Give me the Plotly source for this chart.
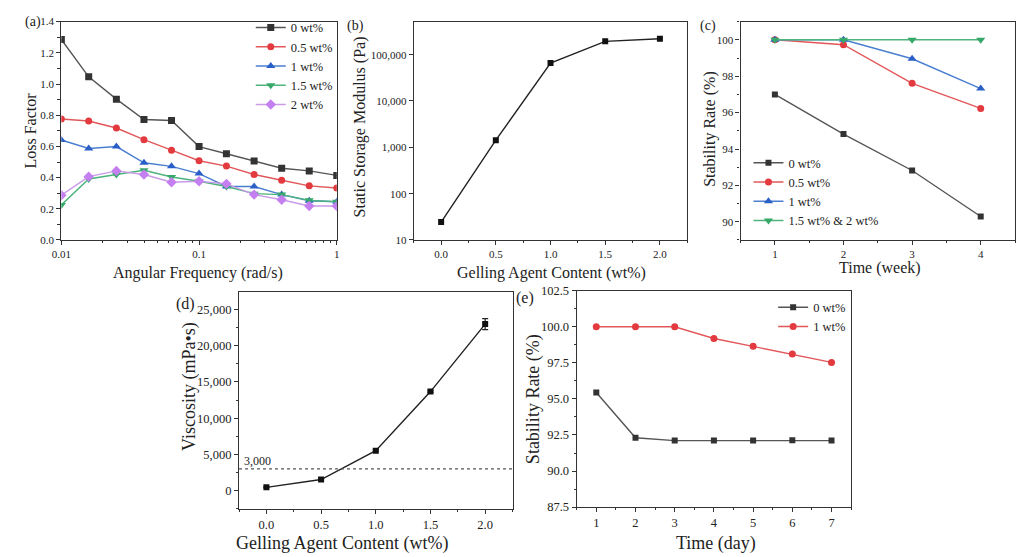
import plotly.graph_objects as go

# ---------------- data ----------------
# (a) loss factor vs angular frequency
freq = [0.01, 0.0158, 0.0251, 0.0398, 0.0631, 0.1, 0.158, 0.251, 0.398, 0.631, 1.0]
lf_0 = [1.286, 1.046, 0.903, 0.772, 0.766, 0.599, 0.553, 0.506, 0.460, 0.443, 0.414]
lf_05 = [0.776, 0.763, 0.718, 0.643, 0.576, 0.508, 0.474, 0.420, 0.383, 0.347, 0.333]
lf_1 = [0.641, 0.587, 0.599, 0.495, 0.472, 0.426, 0.343, 0.343, 0.291, 0.252, 0.245]
lf_15 = [0.225, 0.391, 0.420, 0.447, 0.404, 0.377, 0.343, 0.297, 0.291, 0.254, 0.245]
lf_2 = [0.287, 0.406, 0.443, 0.420, 0.370, 0.377, 0.360, 0.291, 0.258, 0.218, 0.218]
a_names = ["0 wt%", "0.5 wt%", "1 wt%", "1.5 wt%", "2 wt%"]

# (b) static storage modulus
content = [0.0, 0.5, 1.0, 1.5, 2.0]
modulus = [24.3, 1426, 65700, 193600, 220000]
b_ticks = [10, 100, 1000, 10000, 100000]
b_ticktext = ["10", "100", "1,000", "10,000", "100,000"]

# (c) stability rate vs week
weeks = [1, 2, 3, 4]
c_0 = [97.0, 94.82, 92.82, 90.29]
c_05 = [100.0, 99.73, 97.61, 96.23]
c_1 = [100.0, 100.0, 98.96, 97.32]
c_15_2 = [100.0, 100.0, 100.0, 100.0]
c_names = ["0 wt%", "0.5 wt%", "1 wt%", "1.5 wt% & 2 wt%"]

# (d) viscosity
viscosity = [448, 1523, 5511, 13665, 22984]
viscosity_err = [60, 90, 150, 120, 760]
THRESHOLD = 3000

# (e) stability rate vs day
days = [1, 2, 3, 4, 5, 6, 7]
e_0 = [95.44, 92.31, 92.11, 92.11, 92.11, 92.13, 92.11]
e_1 = [100.0, 100.0, 100.0, 99.19, 98.65, 98.11, 97.53]
e_names = ["0 wt%", "1 wt%"]

# axis titles
titles = {
    "a": ("Angular Frequency (rad/s)", "Loss Factor"),
    "b": ("Gelling Agent Content (wt%)", "Static Storage Modulus (Pa)"),
    "c": ("Time (week)", "Stability Rate (%)"),
    "d": ("Gelling Agent Content (wt%)", "Viscosity (mPa•s)"),
    "e": ("Time (day)", "Stability Rate (%)"),
}

# ---------------- style ----------------
FONT = "Liberation Serif, Times New Roman, serif"
TXT = "#222222"
BLACK_M, BLACK_L = "#333333", "#555555"
RED_M, RED_L = "#e23a3e", "#e2575a"
BLUE_M, BLUE_L = "#2a5fc8", "#4a7fd0"
GREEN_M, GREEN_L = "#35a86a", "#4cb47c"
PURP_M, PURP_L = "#c47ff0", "#c99ae8"

W, H = 1020, 557


def xd(l, r):
    return [l / W, r / W]


def yd(t, b):
    return [1 - b / H, 1 - t / H]


fig = go.Figure()


def line(x, y, name, mcol, lcol, symbol, xa, ya, legend=None, show=True, size=7):
    fig.add_trace(go.Scatter(
        x=x, y=y, name=name, mode="lines+markers",
        line=dict(color=lcol, width=1.4),
        marker=dict(color=mcol, symbol=symbol, size=size),
        xaxis=xa, yaxis=ya, legend=legend, showlegend=show))


# (a)
line(freq, lf_0, a_names[0], BLACK_M, BLACK_L, "square", "x", "y", "legend")
line(freq, lf_05, a_names[1], RED_M, RED_L, "circle", "x", "y", "legend")
line(freq, lf_1, a_names[2], BLUE_M, BLUE_L, "triangle-up", "x", "y", "legend", size=8)
line(freq, lf_15, a_names[3], GREEN_M, GREEN_L, "triangle-down", "x", "y", "legend", size=8)
line(freq, lf_2, a_names[4], PURP_M, PURP_L, "diamond", "x", "y", "legend", size=8)

# (b)
line(content, modulus, "modulus", "#111111", "#222222", "square", "x2", "y2", show=False, size=6)

# (c)
line(weeks, c_0, c_names[0], BLACK_M, BLACK_L, "square", "x3", "y3", "legend2", size=6)
line(weeks, c_05, c_names[1], RED_M, RED_L, "circle", "x3", "y3", "legend2")
line(weeks, c_1, c_names[2], BLUE_M, BLUE_L, "triangle-up", "x3", "y3", "legend2", size=8)
line(weeks, c_15_2, c_names[3], GREEN_M, GREEN_L, "triangle-down", "x3", "y3", "legend2", size=8)

# (d)
fig.add_trace(go.Scatter(
    x=content, y=viscosity, mode="lines+markers", showlegend=False,
    line=dict(color="#222222", width=1.4),
    marker=dict(color="#111111", symbol="square", size=6),
    error_y=dict(type="data", array=viscosity_err, color="#222222", thickness=1.2, width=3),
    xaxis="x4", yaxis="y4"))

# (e)
line(days, e_0, e_names[0], BLACK_M, BLACK_L, "square", "x5", "y5", "legend3", size=6)
line(days, e_1, e_names[1], RED_M, RED_L, "circle", "x5", "y5", "legend3")

tick_top = dict(family=FONT, size=11, color=TXT)
tick_bot = dict(family=FONT, size=12.5, color=TXT)
MC = "#333333"


def ax(domain, anchor, rng, tf, **kw):
    d = dict(domain=domain, anchor=anchor, range=rng, showline=True, mirror=True,
             linecolor=MC, linewidth=1.3, ticks="outside", ticklen=4,
             tickwidth=1.2, tickcolor=MC, showgrid=False, zeroline=False,
             tickfont=tf)
    d.update(kw)
    return d


ya_top = yd(15, 239)
leg_font = dict(family=FONT, size=12.5, color=TXT)

layout = dict(
    width=W, height=H, margin=dict(l=0, r=0, t=0, b=0),
    paper_bgcolor="white", plot_bgcolor="white",
    font=dict(family=FONT, color=TXT),
    # (a)
    xaxis=ax(xd(52, 331), "y", [-2, 0], tick_top, type="log",
             tickvals=[0.01, 0.1, 1], ticktext=["0.01", "0.1", "1"],
             minor=dict(ticks="outside", ticklen=2, dtick="D1", tickcolor=MC)),
    yaxis=ax(ya_top, "x", [0, 1.4], tick_top, dtick=0.2, tickformat=".1f",
             minor=dict(ticks="outside", ticklen=3, dtick=0.1, tickcolor=MC)),
    # (b)
    xaxis2=ax(xd(409, 686), "y2", [-0.25, 2.25], tick_top, dtick=0.5, tickformat=".1f",
              minor=dict(ticks="outside", ticklen=2, dtick=0.25, tickcolor=MC)),
    yaxis2=ax(ya_top, "x2", [1, 5.713], tick_top, type="log",
              tickvals=b_ticks, ticktext=b_ticktext),
    # (c)
    xaxis3=ax(xd(740, 1018), "y3", [0.5, 4.5], tick_top, dtick=1,
              minor=dict(ticks="outside", ticklen=2, dtick=0.5, tickcolor=MC)),
    yaxis3=ax(ya_top, "x3", [89, 101], tick_top, dtick=2,
              minor=dict(ticks="outside", ticklen=2, dtick=1, tickcolor=MC)),
    # (d)
    xaxis4=ax(xd(232, 509), "y4", [-0.25, 2.25], tick_bot, dtick=0.5, tickformat=".1f",
              minor=dict(ticks="outside", ticklen=2, dtick=0.25, tickcolor=MC)),
    yaxis4=ax(yd(292, 515), "x4", [-2550, 27460], tick_bot,
              tickvals=[0, 5000, 10000, 15000, 20000, 25000], tickformat=",",
              minor=dict(ticks="outside", ticklen=2, dtick=2500, tickcolor=MC)),
    # (e)
    xaxis5=ax(xd(574, 852), "y5", [0.5, 7.5], tick_bot, dtick=1,
              minor=dict(ticks="outside", ticklen=2, dtick=0.5, tickcolor=MC)),
    yaxis5=ax(yd(291, 513), "x5", [87.5, 102.5], tick_bot, dtick=2.5, tickformat=".1f",
              minor=dict(ticks="outside", ticklen=2, dtick=1.25, tickcolor=MC)),
    legend=dict(x=332 / W, y=1 - 6 / H, xanchor="right", yanchor="top",
                bgcolor="rgba(0,0,0,0)", font=leg_font, itemwidth=30, tracegroupgap=0),
    legend2=dict(x=748 / W, y=1 - 234 / H, xanchor="left", yanchor="bottom",
                 bgcolor="rgba(0,0,0,0)", font=leg_font, itemwidth=30, tracegroupgap=0),
    legend3=dict(x=852 / W, y=1 - 293 / H, xanchor="right", yanchor="top",
                 bgcolor="rgba(0,0,0,0)", font=leg_font, itemwidth=30, tracegroupgap=0),
)
fig.update_layout(**layout)

# threshold line in (d)
fig.add_shape(type="line", xref="x4 domain", yref="y4", x0=0, x1=1, y0=THRESHOLD, y1=THRESHOLD,
              line=dict(color="#555555", width=1.2, dash="dot"))
fig.add_annotation(x=-0.25, y=THRESHOLD, xref="x4", yref="y4", text=f"{THRESHOLD:,}",
                   showarrow=False, xanchor="left", yanchor="bottom", xshift=3, yshift=-1,
                   font=dict(family=FONT, size=12, color=TXT))


def txt(text, px, py, size, angle=0):
    fig.add_annotation(x=px / W, y=1 - py / H, xref="paper", yref="paper", text=text,
                       showarrow=False, xanchor="center", yanchor="middle", textangle=angle,
                       font=dict(family=FONT, size=size, color=TXT))


# axis titles (placed like the original figure)
txt(titles["a"][0], 190, 273, 16)
txt(titles["a"][1], 21, 127, 16, -90)
txt(titles["b"][0], 548, 273, 16)
txt(titles["b"][1], 354, 123, 16, -90)
txt(titles["c"][0], 881, 268, 16)
txt(titles["c"][1], 709, 125, 16, -90)
txt(titles["d"][0], 336, 550, 18)
txt(titles["d"][1], 182, 389, 18, -90)
txt(titles["e"][0], 715, 550, 18)
txt(titles["e"][1], 531, 402, 18, -90)

# panel labels
for lab, px, py, s in [("(a)", 23, 15, 14), ("(b)", 350, 20, 14), ("(c)", 707, 20, 14),
                       ("(d)", 178, 305, 16), ("(e)", 522, 299, 16)]:
    txt(lab, px, py, s)

fig.write_html("out.html")
